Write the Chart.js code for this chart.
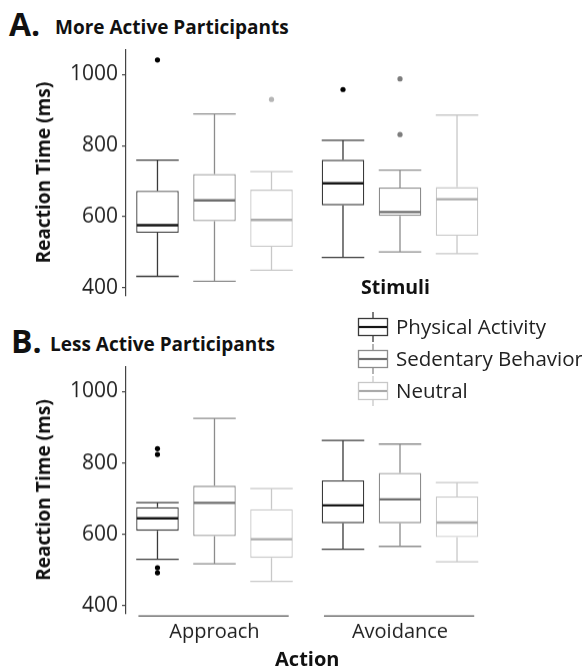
<!DOCTYPE html>
<html>
<head>
<meta charset="utf-8">
<script src="https://cdn.jsdelivr.net/npm/chart.js@4.4.0/dist/chart.umd.min.js"></script>
<style>
  body { margin: 0; background: #fff; font-family: "Open Sans", sans-serif; color: #111; }
  #wrap { position: relative; width: 582px; height: 672px; overflow: hidden; }
  .abs { position: absolute; white-space: nowrap; line-height: 1; }
  .big { font-size: 32px; font-weight: bold; }
  .sub { font-size: 19px; font-weight: bold; }
  .leg { font-size: 20.5px; color: #222; }
  canvas.key { position: absolute; }
</style>
</head>
<body>
<div id="wrap">
  <div class="abs big" style="left:9px; top:7.6px;">A.</div>
  <div class="abs sub" style="left:55px; top:18px;">More Active Participants</div>
  <div class="abs big" style="left:11px; top:324.6px;">B.</div>
  <div class="abs sub" style="left:50px; top:335.4px;">Less Active Participants</div>

  <div style="position:absolute; left:0; top:33.4px; width:582px; height:278.2px;">
    <canvas id="moreChart"></canvas>
  </div>
  <div style="position:absolute; left:0; top:350.4px; width:582px; height:321.6px;">
    <canvas id="lessChart"></canvas>
  </div>

  <div class="abs sub" style="left:361px; top:276.7px; font-size:19.5px;">Stimuli</div>
  <div id="legend"></div>
</div>

<script>
var actions = ['Approach', 'Avoidance'];
var stimuli = ['Physical Activity', 'Sedentary Behavior', 'Neutral'];
var yTicks = [400, 600, 800, 1000];

// one row per stimulus, [approach, avoidance]
var moreLow    = [[432, 485], [418, 501], [449, 496]];
var moreQ1     = [[555, 632], [587, 602], [515, 546]];
var moreMedian = [[576, 694], [646, 613], [591, 649]];
var moreQ3     = [[673, 760], [720, 682], [676, 683]];
var moreHigh   = [[759, 815], [889, 731], [727, 886]];
var moreOut    = [[[1041], [958]], [[], [988, 831]], [[930], []]];

var lessLow    = [[530, 558], [517, 566], [468, 523]];
var lessQ1     = [[610, 631], [595, 631], [534, 592]];
var lessMedian = [[645, 681], [688, 698], [586, 633]];
var lessQ3     = [[676, 751], [736, 772], [670, 706]];
var lessHigh   = [[689, 863], [925, 853], [728, 745]];
var lessOut    = [[[840, 824, 506, 492], []], [[], []], [[], []]];

var lineColors = ['#3a3a3a', '#8c8c8c', '#c8c8c8'];
var medianColors = ['#161616', '#6e6e6e', '#aaaaaa'];
var dotColors = ['#000000', '#7d7d7d', '#b5b5b5'];

var fontName = '"Open Sans", sans-serif';

// whiskers, medians and outliers on top of the floating bars
var boxPlugin = {
  id: 'boxes',
  afterDatasetsDraw: function (chart) {
    var ctx = chart.ctx;
    var y = chart.scales.y;
    ctx.save();
    chart.data.datasets.forEach(function (ds, i) {
      var meta = chart.getDatasetMeta(i);
      meta.data.forEach(function (bar, j) {
        var half = bar.width / 2;
        var x = bar.x;
        var yq1 = y.getPixelForValue(ds.q1[j]);
        var yq3 = y.getPixelForValue(ds.q3[j]);
        var yLo = y.getPixelForValue(ds.low[j]);
        var yHi = y.getPixelForValue(ds.high[j]);
        ctx.strokeStyle = ds.borderColor;
        ctx.lineWidth = 1.3;
        ctx.beginPath();
        ctx.moveTo(x, yq3); ctx.lineTo(x, yHi);
        ctx.moveTo(x - half, yHi); ctx.lineTo(x + half, yHi);
        ctx.moveTo(x, yq1); ctx.lineTo(x, yLo);
        ctx.moveTo(x - half, yLo); ctx.lineTo(x + half, yLo);
        ctx.stroke();

        var yMed = y.getPixelForValue(ds.median[j]);
        ctx.strokeStyle = medianColors[i];
        ctx.lineWidth = 2.4;
        ctx.beginPath();
        ctx.moveTo(x - half + 0.6, yMed); ctx.lineTo(x + half - 0.6, yMed);
        ctx.stroke();

        ctx.fillStyle = dotColors[i];
        ds.outliers[j].forEach(function (v) {
          ctx.beginPath();
          ctx.arc(x, y.getPixelForValue(v), 2.6, 0, Math.PI * 2);
          ctx.fill();
        });
      });
    });
    ctx.restore();
  }
};

// short lines under each group, like the original x axis
var bracketPlugin = {
  id: 'brackets',
  afterDraw: function (chart) {
    if (!chart.options.plugins.brackets.show) return;
    var ctx = chart.ctx;
    var x = chart.scales.x;
    var yPix = chart.chartArea.bottom + 2.5;
    ctx.save();
    ctx.strokeStyle = '#555';
    ctx.lineWidth = 1.2;
    actions.forEach(function (a, j) {
      ctx.beginPath();
      ctx.moveTo(x.getPixelForValue(j + 1 - 0.41), yPix);
      ctx.lineTo(x.getPixelForValue(j + 1 + 0.40), yPix);
      ctx.stroke();
    });
    ctx.restore();
  }
};

function makePanel(id, low, q1, med, q3, high, out, showX) {
  var datasets = stimuli.map(function (name, i) {
    return {
      label: name,
      data: actions.map(function (a, j) { return { x: j + 1, y: [q1[i][j], q3[i][j]] }; }),
      backgroundColor: '#ffffff',
      borderColor: lineColors[i],
      borderWidth: 1.3,
      borderSkipped: false,
      categoryPercentage: 0.922,
      barPercentage: 0.746,
      low: low[i], q1: q1[i], median: med[i], q3: q3[i], high: high[i], outliers: out[i]
    };
  });

  return new Chart(document.getElementById(id), {
    type: 'bar',
    data: { datasets: datasets },
    options: {
      responsive: true,
      maintainAspectRatio: false,
      animation: false,
      layout: { padding: { left: 0, right: 93.5, top: 16.6, bottom: showX ? 0 : 16.6 } },
      plugins: {
        legend: { display: false },
        tooltip: { enabled: false },
        brackets: { show: showX }
      },
      scales: {
        x: {
          type: 'linear',
          min: 0.523,
          max: 2.477,
          offset: false,
          display: showX,
          grid: { display: false, drawTicks: false },
          border: { display: false },
          afterBuildTicks: function (scale) {
            scale.ticks = actions.map(function (a, j) { return { value: j + 1 }; });
          },
          afterFit: function (scale) { if (showX) scale.height = 59; },
          ticks: {
            autoSkip: false,
            maxRotation: 0,
            padding: 6.7,
            color: '#222',
            font: { family: fontName, size: 20 },
            callback: function (v) { return actions[v - 1]; }
          },
          title: {
            display: true,
            text: 'Action',
            color: '#111',
            padding: { top: 0, bottom: 0 },
            font: { family: fontName, size: 20, weight: 'bold' }
          }
        },
        y: {
          min: 378,
          max: 1070,
          grid: { drawOnChartArea: false, drawTicks: true, tickLength: 4, color: '#444', lineWidth: 1.2 },
          border: { display: true, color: '#444', width: 1.2 },
          afterBuildTicks: function (scale) {
            scale.ticks = yTicks.map(function (v) { return { value: v }; });
          },
          afterFit: function (scale) { scale.width = 126; },
          ticks: {
            padding: 4,
            color: '#222',
            font: { family: fontName, size: 21 },
            callback: function (v) { return String(v); }
          },
          title: {
            display: true,
            text: 'Reaction Time (ms)',
            color: '#111',
            padding: { top: 33.6, bottom: 0 },
            font: { family: fontName, size: 19, weight: 'bold' }
          }
        }
      }
    },
    plugins: [boxPlugin, bracketPlugin]
  });
}

makePanel('moreChart', moreLow, moreQ1, moreMedian, moreQ3, moreHigh, moreOut, false);
makePanel('lessChart', lessLow, lessQ1, lessMedian, lessQ3, lessHigh, lessOut, true);

// legend with small box glyphs
var legendRows = [327, 359, 391];
var legend = document.getElementById('legend');
stimuli.forEach(function (name, i) {
  var c = document.createElement('canvas');
  c.className = 'key';
  c.width = 32; c.height = 32;
  c.style.left = '357px';
  c.style.top = (legendRows[i] - 16) + 'px';
  legend.appendChild(c);
  var g = c.getContext('2d');
  g.strokeStyle = lineColors[i];
  g.lineWidth = 1.3;
  g.beginPath();
  g.moveTo(16, 1); g.lineTo(16, 7);
  g.moveTo(16, 25); g.lineTo(16, 31);
  g.stroke();
  g.strokeRect(1.5, 7.5, 29, 17);
  g.strokeStyle = medianColors[i];
  g.lineWidth = 2.2;
  g.beginPath();
  g.moveTo(2, 16); g.lineTo(30, 16);
  g.stroke();

  var t = document.createElement('div');
  t.className = 'abs leg';
  t.style.left = '396px';
  t.style.top = (legendRows[i] - 10.9) + 'px';
  t.textContent = name;
  legend.appendChild(t);
});
</script>
</body>
</html>
